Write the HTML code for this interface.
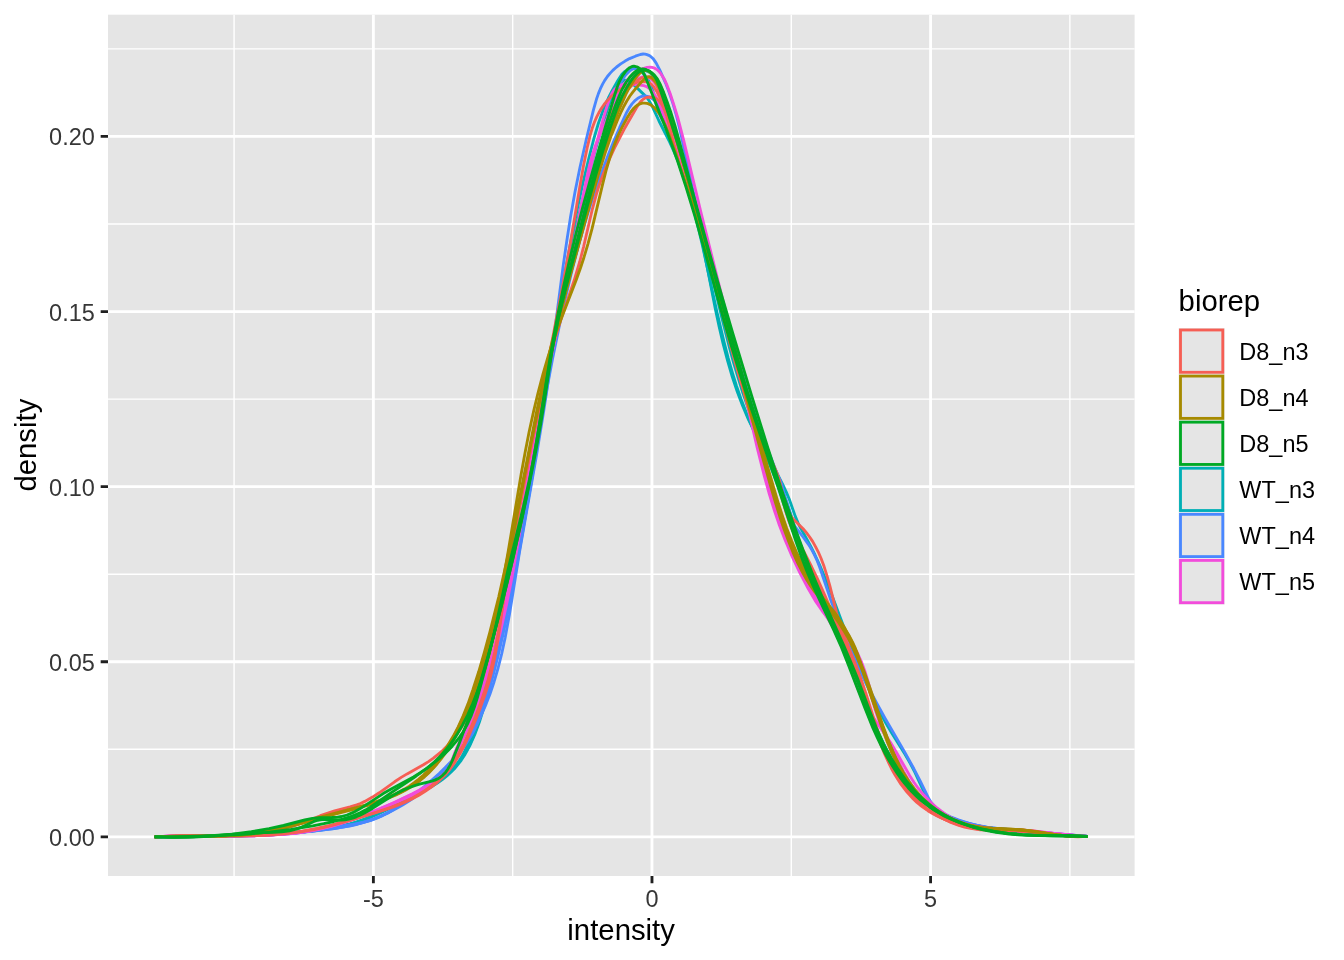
<!DOCTYPE html>
<html><head><meta charset="utf-8"><title>density</title><style>html,body{margin:0;padding:0;background:#fff;overflow:hidden}svg{display:block;will-change:transform}text{font-family:"Liberation Sans",Arial,Helvetica,sans-serif}</style></head><body>
<svg width="1344" height="960" viewBox="0 0 1344 960">
<rect width="1344" height="960" fill="#fff"/>
<rect x="108.00" y="14.67" width="1026.60" height="861.33" fill="#E5E5E5"/>
<path d="M234.08 14.67V876.00M512.68 14.67V876.00M791.28 14.67V876.00M1069.88 14.67V876.00M108.00 749.30H1134.60M108.00 574.20H1134.60M108.00 399.10H1134.60M108.00 224.00H1134.60M108.00 48.90H1134.60" stroke="#fff" stroke-width="1.42" fill="none"/>
<path d="M373.38 14.67V876.00M651.98 14.67V876.00M930.58 14.67V876.00M108.00 836.85H1134.60M108.00 661.75H1134.60M108.00 486.65H1134.60M108.00 311.55H1134.60M108.00 136.45H1134.60" stroke="#fff" stroke-width="2.845" fill="none"/>
<defs><clipPath id="pc"><rect x="108.00" y="14.67" width="1026.60" height="861.33"/></clipPath></defs>
<g clip-path="url(#pc)" fill="none" stroke-width="2.845" stroke-linejoin="round" stroke-linecap="butt">
<path d="M154.6 836.8L236.2 836.0 258.3 835.3 277.3 834.3 298.3 832.7 318.2 830.4 335.1 827.7 342.9 826.1 349.7 824.4 357.3 822.2 363.9 820.0 371.2 817.0 378.5 813.8 389.3 808.6 415.7 795.4 424.7 790.6 431.8 786.6 437.7 782.8 442.6 779.3 447.2 775.6 450.9 772.3 454.4 768.8 458.2 764.2 461.2 760.3 464.5 755.3 467.0 750.9 469.8 745.6 474.8 734.5 479.4 722.1 483.9 707.7 488.5 690.2 495.8 658.9 503.3 625.5 510.5 592.0 516.1 564.4 521.3 537.7 526.4 509.9 531.1 483.2 539.0 435.4 556.7 322.0 561.7 292.3 566.5 264.5 571.9 235.8 577.2 209.2 582.8 183.6 588.4 160.0 593.9 138.5 598.5 123.0 603.2 109.9 605.9 103.4 608.4 98.0 612.0 90.9 617.6 80.9 619.9 77.2 621.7 74.6 624.5 71.7 627.0 70.1 628.7 69.3 630.5 68.7 633.2 68.4 636.0 68.7 637.7 69.3 639.4 70.2 641.8 71.9 644.0 74.1 646.0 76.6 647.7 79.2 649.2 81.9 652.0 88.5 657.5 105.8 660.6 114.2 663.8 121.5 671.7 137.8 675.8 147.0 680.6 159.1 684.8 171.4 688.1 181.9 691.0 192.5 694.0 204.2 697.2 217.9 702.6 243.6 715.4 309.2 719.2 327.0 723.1 343.7 727.7 361.2 732.2 376.6 737.3 391.8 742.6 405.8 748.5 419.6 754.6 432.2 760.7 443.8 775.9 471.2 782.8 484.6 786.2 491.9 789.3 499.3 795.3 516.4 798.0 522.9 800.7 528.3 806.7 538.9 810.5 546.0 815.0 555.0 819.2 564.1 824.3 576.1 830.3 591.0 849.8 642.9 857.1 661.8 864.4 679.5 871.8 696.0 878.9 710.4 886.1 723.6 891.7 733.0 905.0 754.3 910.6 764.0 914.8 772.2 923.0 790.0 926.9 797.1 930.1 802.0 933.8 806.5 938.1 810.6 943.5 814.6 948.6 817.7 955.0 820.7 961.6 823.2 969.5 825.4 979.6 827.5 991.7 829.0 1025.7 831.2 1068.8 835.4 1078.9 836.1 1087.6 836.3" stroke="#00AFB5"/>
<path d="M154.6 836.8L180.4 836.2 241.3 836.0 258.2 835.5 273.1 834.8 294.7 832.9 317.3 830.2 335.9 827.3 343.7 825.7 350.4 824.1 357.0 822.1 363.5 819.8 369.9 817.3 377.1 814.0 417.4 794.1 425.3 789.9 431.4 786.4 436.3 783.1 441.1 779.6 445.7 775.8 450.1 771.7 454.2 767.4 458.0 762.9 461.6 758.1 464.9 753.2 469.3 745.4 473.4 736.5 477.2 726.3 480.7 714.9 486.6 692.6 494.2 661.5 500.9 632.4 507.3 603.3 515.8 561.4 524.5 514.4 532.3 469.3 550.5 360.4 560.7 303.5 566.1 275.1 571.7 247.8 577.2 222.4 582.6 199.2 589.1 173.1 595.8 148.1 603.1 123.3 609.8 102.5 611.6 97.9 613.7 93.4 615.6 89.8 617.8 86.4 619.8 84.0 621.9 81.8 624.3 80.4 626.0 80.2 627.8 80.6 629.5 81.5 631.2 82.7 634.4 85.4 644.5 95.1 647.1 98.0 649.4 101.2 652.3 106.4 659.0 121.0 669.7 142.2 673.8 151.2 678.0 161.2 682.1 172.4 686.3 184.6 690.4 197.9 694.4 212.4 698.3 227.9 702.2 244.4 717.1 312.8 724.0 341.8 728.2 358.2 732.3 372.5 736.4 385.7 740.9 398.8 746.6 413.6 752.8 428.2 758.3 440.0 774.3 472.2 778.5 481.3 782.3 490.4 786.1 500.7 789.9 512.0 801.7 550.9 804.3 558.4 807.3 565.8 812.6 577.7 825.7 604.8 833.7 623.0 842.6 645.0 862.3 695.6 867.9 709.4 873.0 721.3 878.9 734.1 884.6 745.9 890.3 756.7 896.0 766.3 902.6 776.5 909.7 786.1 916.9 794.2 923.9 801.0 931.4 807.0 938.7 811.7 947.3 816.2 956.4 819.9 965.9 822.9 975.6 825.4 986.6 827.5 999.8 829.4 1011.9 830.8 1027.8 832.1 1087.6 836.3" stroke="#00AFB5"/>
<path d="M154.6 836.8L174.5 836.4 235.0 835.9 253.1 835.3 270.1 834.4 291.8 832.6 315.4 829.9 335.3 827.0 342.2 825.7 349.0 824.1 354.7 822.5 360.3 820.7 366.6 818.3 372.9 815.5 419.0 792.5 430.1 786.6 435.3 783.5 439.6 780.7 443.6 777.7 447.4 774.5 451.0 771.2 453.6 768.3 456.6 764.5 459.4 760.5 461.9 756.4 464.3 752.0 468.8 742.0 474.1 727.9 480.3 709.8 486.0 691.5 491.5 672.2 496.8 651.8 501.9 630.3 508.4 599.9 514.9 566.4 520.3 535.7 532.7 462.4 539.9 420.8 547.6 378.4 555.0 339.9 563.2 299.6 571.6 261.4 580.3 224.2 588.2 193.1 595.6 167.0 599.4 154.6 603.3 143.2 607.3 131.8 611.3 121.5 615.5 111.3 619.6 102.1 623.0 94.9 626.3 88.7 629.4 83.5 632.9 78.7 635.6 75.6 638.7 72.9 641.4 71.3 643.3 70.7 644.2 70.6 645.1 70.7 646.9 71.1 648.7 71.9 650.4 73.1 653.4 76.1 655.9 79.5 658.4 83.8 660.9 89.1 665.5 100.3 668.1 107.9 669.5 112.8 670.3 116.7 671.1 121.6 672.6 135.5 673.4 140.4 674.8 146.2 677.6 155.8 684.3 174.8 688.3 187.2 696.1 213.3 700.6 229.8 705.0 247.3 721.6 316.7 729.3 346.9 733.8 363.3 738.4 378.7 742.9 393.0 747.5 406.3 755.2 427.0 776.3 481.3 781.5 495.5 797.7 541.8 804.3 559.6 810.9 576.3 816.6 590.2 822.2 603.2 842.7 648.2 851.1 667.5 857.7 684.2 870.6 718.6 876.6 733.4 883.4 748.0 890.2 760.7 896.7 771.1 903.9 781.1 907.7 785.9 911.7 790.4 919.5 798.2 927.1 804.6 931.1 807.4 935.2 810.1 943.7 814.8 948.2 816.9 953.7 819.1 963.1 822.3 973.8 825.1 984.7 827.3 997.8 829.3 1010.0 830.7 1024.1 831.9 1087.6 836.3" stroke="#00AFB5"/>
<path d="M154.6 836.8L203.7 836.5 233.4 836.0 261.0 835.0 286.5 833.5 311.7 831.3 333.7 828.5 342.6 827.1 350.5 825.5 358.3 823.6 366.1 821.4 373.8 818.9 380.5 816.2 388.0 812.9 395.4 809.1 402.6 805.0 409.7 800.5 416.5 795.8 423.0 790.8 429.3 785.5 435.4 780.0 441.2 774.2 447.4 767.5 452.6 761.3 458.2 754.0 462.9 747.4 467.8 739.8 474.0 729.3 480.0 717.6 485.1 706.5 489.9 694.2 494.1 681.7 498.1 668.0 501.6 654.1 505.1 638.0 509.4 614.7 519.6 551.5 536.7 453.9 543.6 411.7 546.8 390.5 550.0 367.2 563.2 265.6 566.9 240.3 570.5 217.1 575.0 192.1 580.0 167.2 586.1 140.3 593.4 110.2 596.8 98.2 598.5 93.4 600.4 88.7 602.6 84.1 604.6 80.6 607.4 76.5 610.0 73.4 612.8 70.4 616.6 67.0 620.7 63.9 625.1 61.1 629.6 58.6 635.4 56.2 640.3 54.5 643.2 54.0 645.2 54.1 647.0 54.6 648.8 55.3 650.4 56.3 653.3 58.9 656.2 63.1 659.7 69.8 665.6 83.1 669.2 92.5 672.8 103.1 676.5 115.8 680.2 130.7 692.2 186.9 700.7 223.9 710.0 260.5 720.4 298.9 728.8 328.3 738.4 360.7 751.7 404.8 758.5 426.3 763.5 440.8 768.2 453.2 773.0 464.5 779.4 478.5 781.9 485.1 783.6 492.2 786.2 508.6 787.1 512.5 788.1 515.3 789.8 518.9 792.4 523.1 803.1 537.0 808.6 544.6 811.9 549.9 814.7 555.3 817.3 560.9 819.8 567.5 830.2 598.4 838.7 621.4 848.0 644.1 857.6 665.6 867.0 684.9 876.6 702.9 885.0 718.1 905.0 752.6 913.9 768.8 920.0 780.6 929.0 799.1 931.7 803.3 934.9 807.0 938.7 810.3 943.8 813.5 950.4 816.7 958.3 819.8 969.2 823.4 978.1 825.7 986.1 827.3 996.2 828.5 1025.8 830.7 1068.6 835.0 1087.6 836.3" stroke="#4987FF"/>
<path d="M154.6 836.8L193.9 836.7 226.2 836.2 255.4 835.2 282.6 833.6 309.9 831.3 334.2 828.6 342.9 827.2 350.6 825.8 358.2 824.0 364.7 822.2 372.0 819.8 378.2 817.3 384.4 814.4 391.2 810.7 397.9 806.8 404.5 802.5 411.7 797.4 419.6 791.4 427.3 785.2 434.1 779.4 440.6 773.4 446.9 767.2 452.9 760.7 457.9 754.8 462.7 748.6 467.1 742.2 472.2 734.0 476.6 725.4 480.9 715.5 484.6 705.3 488.4 693.0 492.8 676.7 497.9 656.6 502.6 636.5 509.7 603.0 516.9 564.7 523.3 528.3 541.0 422.0 546.9 389.1 552.5 359.1 559.0 327.4 565.5 297.7 572.1 270.2 579.0 243.8 583.5 228.0 588.2 212.2 593.0 197.4 598.0 182.6 603.3 167.9 608.5 154.2 614.1 140.4 619.6 127.7 626.8 112.2 629.2 107.9 632.0 103.9 635.3 100.3 638.4 97.9 640.1 97.0 641.8 96.4 644.5 96.0 646.4 96.1 648.2 96.6 650.0 97.3 652.5 98.8 654.1 100.0 656.2 102.1 658.1 104.4 659.6 106.9 662.6 113.2 668.2 127.1 674.2 142.8 680.2 159.5 686.1 177.1 692.0 195.7 697.9 215.2 703.7 235.8 709.2 256.4 714.7 278.1 732.4 350.8 737.0 368.0 741.5 383.1 746.2 397.0 751.0 409.8 756.5 423.4 770.1 455.6 777.1 473.8 783.8 493.3 798.3 538.3 802.1 549.4 805.8 559.5 809.4 568.5 813.3 577.4 817.4 586.1 821.5 593.7 828.4 605.3 841.2 624.7 846.3 632.9 851.1 641.3 855.0 649.2 858.9 658.2 863.1 669.3 867.0 680.6 877.4 712.4 881.0 722.3 884.8 732.2 890.0 744.5 895.7 757.0 901.6 768.7 907.1 778.4 912.6 786.9 918.0 794.0 923.2 799.7 928.9 804.9 935.9 809.9 943.3 814.1 951.1 817.7 960.2 821.0 968.7 823.4 977.4 825.3 987.3 827.1 997.3 828.4 1018.1 830.5 1087.6 836.3" stroke="#4987FF"/>
<path d="M154.6 836.8L174.8 837.0 196.9 836.6 256.0 834.7 282.3 834.0 292.3 833.5 302.2 832.4 324.2 828.5 353.1 824.4 363.0 822.5 370.6 820.4 376.2 818.4 382.5 815.6 388.7 812.4 394.7 808.8 401.4 804.4 407.9 799.6 424.6 786.3 432.4 779.6 439.2 773.5 445.0 767.8 450.6 762.0 455.9 756.1 460.3 750.7 465.0 744.3 468.8 738.5 473.7 729.9 477.9 720.9 481.5 711.5 485.3 700.0 489.3 685.2 495.2 661.5 500.7 637.9 506.2 613.3 514.9 570.1 523.6 522.9 531.2 478.5 548.4 374.3 557.7 321.7 562.9 295.0 568.1 269.4 573.6 244.9 579.0 222.4 586.8 192.4 595.8 160.6 607.5 122.1 615.7 96.1 617.9 89.3 619.8 84.7 621.6 81.1 623.7 77.6 626.1 74.4 629.0 71.4 631.4 69.6 634.0 68.5 635.7 68.3 638.4 68.8 640.7 70.2 642.1 71.5 643.4 73.1 645.6 76.8 648.8 83.7 652.2 92.0 654.1 97.5 657.9 110.0 660.1 115.7 661.5 118.4 663.6 121.8 671.2 132.3 673.9 136.4 676.6 141.6 679.2 148.1 682.1 157.9 687.6 180.7 692.7 200.2 714.8 278.3 725.2 316.1 733.3 347.3 743.5 389.4 748.6 407.8 752.9 421.1 757.2 432.4 762.0 443.4 773.8 469.0 776.9 476.4 779.8 483.9 783.8 496.3 792.0 525.3 796.8 539.6 800.5 549.0 805.2 560.2 822.2 597.9 830.2 616.3 838.4 636.7 858.1 686.8 868.9 712.7 875.5 727.5 881.6 740.3 888.1 753.1 894.2 763.8 900.6 774.1 907.7 783.9 914.7 792.3 921.6 799.3 929.1 805.5 936.3 810.5 940.5 812.9 944.9 815.2 954.0 819.1 963.6 822.3 973.5 824.9 984.6 827.1 998.0 829.1 1009.3 830.4 1023.4 831.6 1087.6 836.3" stroke="#4987FF"/>
<path d="M154.6 836.8L167.4 836.1 182.4 835.7 242.3 835.9 256.6 835.7 268.7 835.2 282.8 834.3 295.8 833.0 308.7 831.1 320.5 828.8 329.2 826.7 337.8 824.3 346.4 821.6 355.9 818.3 374.7 811.1 396.1 801.7 422.9 789.1 428.4 786.3 432.7 783.8 437.6 780.5 441.3 777.5 444.7 774.0 447.0 771.0 448.5 768.5 450.2 764.9 455.0 752.4 457.1 747.7 459.4 743.2 465.9 732.1 468.7 726.8 472.0 719.5 475.3 711.1 481.7 691.8 488.6 668.6 495.0 645.2 501.0 620.7 508.8 585.4 516.7 545.8 523.5 508.2 539.6 414.9 549.5 362.4 557.6 321.9 576.8 228.0 587.0 176.6 589.4 165.8 591.7 157.1 595.1 146.6 600.0 134.4 608.7 115.0 615.9 98.4 618.9 92.1 622.0 86.9 624.9 82.8 628.2 78.9 631.9 75.3 635.1 72.8 639.4 70.1 643.2 68.5 647.1 67.4 650.1 67.1 652.0 67.3 653.7 67.8 655.4 68.6 657.7 70.2 659.1 71.6 661.0 73.9 664.2 78.9 667.1 85.4 670.3 94.0 674.1 105.6 677.9 118.2 683.5 139.7 701.3 213.9 736.0 352.7 743.7 385.1 756.3 439.3 761.7 461.9 765.8 477.5 769.8 492.1 773.8 505.6 777.8 517.9 782.9 532.1 788.4 546.0 794.0 558.9 799.6 570.6 804.8 580.4 809.8 589.1 826.2 615.9 832.0 625.5 836.4 633.5 840.4 641.6 843.3 648.1 846.3 655.6 854.8 680.5 857.9 689.0 861.5 697.3 865.6 705.3 868.7 710.5 872.5 716.4 886.3 736.3 891.4 743.9 896.1 751.7 909.6 775.4 913.9 782.2 918.0 788.0 921.8 792.7 925.1 796.5 929.2 800.8 932.9 804.3 937.4 808.2 941.3 811.2 946.1 814.7 950.3 817.3 958.2 821.4 965.5 824.4 974.0 826.9 981.9 828.4 988.0 829.1 994.1 829.5 1016.9 829.9 1026.1 830.3 1038.1 831.5 1068.6 835.2 1078.7 836.0 1087.6 836.3" stroke="#F24CDB"/>
<path d="M154.6 836.8L167.3 836.1 181.2 835.8 242.3 835.9 256.3 835.7 269.3 835.2 283.2 834.2 297.0 832.7 309.7 830.7 322.3 828.1 330.9 825.9 340.4 823.1 349.9 820.1 359.2 816.8 369.5 812.9 380.6 808.3 392.6 803.2 403.5 798.1 412.5 793.7 420.4 789.5 427.3 785.5 433.9 781.3 439.5 777.4 443.2 774.4 446.6 771.0 448.8 767.9 450.2 765.4 451.9 761.8 456.4 749.3 458.7 743.7 467.0 725.5 471.7 714.5 476.2 703.4 480.7 691.4 486.1 675.4 491.3 658.4 496.0 641.2 500.6 622.9 506.0 598.7 511.2 572.3 515.8 546.7 530.4 463.0 537.3 426.7 545.2 386.6 586.2 188.2 592.2 161.1 598.0 137.8 602.2 122.3 606.9 106.7 609.8 98.0 612.3 92.7 613.9 90.3 615.1 88.9 617.2 87.1 618.9 86.1 620.7 85.2 623.6 84.4 625.7 84.0 628.8 83.8 631.8 84.0 643.8 85.7 646.6 86.6 649.0 88.2 650.5 89.4 652.5 91.6 655.8 96.5 658.9 102.6 661.8 110.1 669.3 133.0 683.8 175.3 692.2 200.7 702.0 231.9 711.6 264.3 722.8 304.7 733.5 346.2 742.8 385.0 757.3 448.2 764.6 477.2 769.4 494.4 774.4 510.5 779.5 525.5 785.2 540.3 792.2 556.7 799.9 572.9 808.3 588.8 815.9 601.7 822.1 610.8 828.3 618.5 833.0 623.6 844.2 634.7 849.4 640.5 853.9 646.7 857.7 653.5 861.3 661.5 864.8 670.9 867.7 680.5 875.4 708.0 878.2 716.5 881.7 725.7 887.2 738.3 894.4 753.4 903.5 771.4 909.9 782.8 914.9 790.3 920.4 797.3 925.9 803.0 932.0 808.1 938.5 812.6 946.3 816.9 954.6 820.6 963.2 823.6 969.0 825.2 974.9 826.5 980.9 827.6 987.8 828.4 997.7 829.2 1017.5 830.1 1026.5 830.7 1069.1 835.0 1079.0 835.8 1087.6 836.3" stroke="#F24CDB"/>
<path d="M154.6 836.8L167.3 836.1 182.2 835.7 243.5 835.9 257.6 835.7 270.6 835.2 284.6 834.2 298.4 832.8 311.2 830.8 322.8 828.4 331.4 826.3 340.9 823.5 350.4 820.5 360.7 816.9 372.0 812.6 384.1 807.7 398.0 801.7 408.1 797.1 416.2 793.1 423.2 789.3 430.0 785.3 435.7 781.5 441.2 777.5 444.9 774.4 448.2 771.0 450.5 767.9 451.9 765.3 453.6 761.8 460.3 744.7 472.3 718.3 476.8 707.3 481.0 696.2 486.3 681.2 491.1 666.0 495.7 649.8 500.0 633.4 506.2 606.2 512.1 576.7 517.3 547.1 529.2 474.9 536.7 431.6 545.7 383.6 555.1 337.8 565.3 292.1 576.0 248.4 585.2 213.5 606.0 138.4 610.2 124.3 614.5 112.1 618.9 102.0 621.2 97.5 623.8 93.0 626.0 89.6 628.5 86.4 631.2 83.5 633.5 81.5 636.8 79.2 639.5 77.8 642.2 77.0 644.0 76.7 645.8 76.9 647.6 77.4 649.4 78.2 651.8 79.9 653.2 81.3 655.2 83.7 656.8 86.2 658.2 88.8 660.4 94.4 664.5 106.9 679.4 153.7 688.8 185.1 698.6 218.5 708.6 254.0 718.6 290.5 736.5 358.2 761.5 457.1 768.3 483.1 772.5 497.5 776.6 510.8 780.6 523.0 784.7 534.2 790.9 549.9 797.4 564.4 804.6 578.7 812.1 591.9 819.1 602.9 826.7 613.6 832.9 621.3 843.8 633.9 847.9 639.3 852.2 645.8 855.9 652.7 859.6 660.8 863.5 671.2 866.6 681.0 875.0 709.2 877.8 717.6 881.3 726.6 886.2 738.2 892.4 751.5 900.6 768.0 906.6 779.0 911.5 786.9 916.9 794.4 922.2 800.4 927.9 805.7 934.1 810.3 941.5 814.8 949.4 818.5 958.7 821.8 966.3 824.0 975.2 825.9 984.2 827.5 994.4 828.8 1009.6 830.3 1059.9 834.0 1087.6 836.3" stroke="#F24CDB"/>
<path d="M154.6 836.8L171.2 836.2 213.1 835.9 231.1 835.5 241.1 834.9 250.0 834.2 258.9 833.2 266.7 832.1 280.3 829.5 292.7 826.2 302.0 823.1 320.4 815.7 327.9 813.0 334.6 810.9 350.1 806.9 356.7 804.9 360.4 803.5 364.8 801.4 372.5 797.1 379.2 792.8 394.6 781.8 401.2 777.4 407.1 773.9 423.4 764.8 428.5 761.6 433.4 758.1 441.1 751.9 448.1 745.0 454.4 737.6 460.6 728.8 466.0 719.5 470.9 709.8 475.5 698.8 480.3 685.5 485.1 670.1 490.5 650.5 495.6 630.1 500.5 608.6 505.0 587.2 509.7 562.9 523.7 486.0 530.5 450.0 553.6 333.2 562.2 288.3 570.2 244.3 579.7 187.4 583.5 165.8 587.5 146.3 590.6 133.7 592.3 128.1 594.3 122.5 596.6 117.1 598.8 112.8 601.3 108.6 604.1 104.5 607.2 100.7 610.7 97.0 614.4 93.7 618.4 90.6 622.7 87.9 626.2 86.0 630.8 84.1 634.6 82.9 639.5 81.9 643.4 81.6 646.2 81.8 648.0 82.2 649.6 83.0 651.2 84.0 653.8 86.9 657.1 92.1 662.4 102.9 667.9 115.8 673.2 129.7 678.0 143.8 682.1 157.1 686.2 171.4 703.2 236.6 727.8 325.6 734.2 350.6 742.2 384.6 745.6 398.1 748.9 409.5 752.4 419.7 755.3 427.1 758.1 433.4 771.2 460.0 774.1 466.3 776.8 472.8 778.8 478.4 780.4 484.2 783.5 499.1 784.7 504.0 785.9 507.7 787.5 511.2 788.9 513.7 791.2 516.8 793.9 519.7 803.1 528.8 806.4 532.6 809.3 536.5 812.6 541.4 815.5 546.6 818.2 551.8 821.0 558.2 824.1 566.6 827.1 576.1 829.8 585.7 836.6 612.8 839.1 621.3 841.6 628.8 845.7 639.8 856.6 667.2 861.1 679.2 865.9 693.5 876.5 727.2 882.1 743.3 885.4 751.6 889.0 759.7 892.4 766.8 896.2 773.6 902.0 782.6 905.4 787.3 908.5 791.1 915.2 798.3 919.5 802.4 923.3 805.7 928.0 809.3 932.1 812.2 940.7 817.4 949.6 821.8 958.9 825.4 964.6 827.1 969.5 828.2 975.3 829.2 980.2 829.8 990.0 830.2 1011.8 829.6 1021.7 829.8 1033.6 831.0 1057.2 834.9 1067.1 836.2 1073.0 836.7 1078.0 836.8 1082.9 836.7 1087.6 836.3" stroke="#F65E54"/>
<path d="M154.6 836.8L167.3 836.3 182.0 836.0 242.9 835.9 256.6 835.6 269.3 835.0 285.9 833.7 300.4 831.8 313.9 829.5 329.1 826.1 351.9 819.9 384.6 810.0 392.0 807.5 399.3 804.7 405.7 802.0 411.9 799.0 418.9 795.2 424.8 791.6 431.3 787.1 436.7 782.9 441.7 778.3 446.4 773.4 450.7 768.2 454.6 762.6 459.7 754.3 464.3 745.5 469.3 734.8 475.5 720.2 480.5 707.4 484.7 695.5 488.3 684.4 491.3 673.1 494.7 657.9 497.8 640.6 500.4 623.1 506.2 579.1 510.5 552.9 514.5 531.7 524.6 480.8 536.7 416.2 542.8 386.5 548.9 360.8 552.2 348.5 555.4 337.2 561.0 319.4 574.2 280.3 579.8 261.5 583.7 246.3 591.9 211.0 596.2 194.9 598.5 187.4 601.4 179.0 604.5 170.7 607.9 162.5 615.2 146.5 624.1 129.3 636.3 108.0 638.5 104.5 640.3 102.0 642.3 99.9 644.6 98.3 647.1 97.3 649.9 97.0 652.7 97.3 655.5 98.2 657.1 99.2 659.3 101.0 661.1 103.3 663.1 106.9 664.7 110.7 666.4 115.4 668.9 123.9 674.1 145.5 678.3 160.5 683.5 177.3 696.9 219.5 704.4 245.0 711.8 272.5 729.8 342.9 735.5 363.7 740.7 381.5 747.3 401.9 753.9 420.3 759.2 433.9 772.0 464.6 777.6 479.3 781.7 491.4 789.4 517.8 792.9 527.9 795.7 535.2 799.0 542.2 811.5 566.5 817.5 578.9 824.4 594.3 834.8 618.6 847.0 648.2 857.9 676.2 867.1 701.0 879.2 735.7 883.8 747.8 887.2 756.0 890.5 763.1 893.9 770.1 897.7 776.8 903.4 785.6 909.2 793.1 915.7 800.1 919.2 803.3 922.9 806.4 926.8 809.3 930.9 812.1 939.6 817.0 948.8 821.2 958.3 824.6 964.2 826.3 971.1 827.8 976.9 828.8 983.8 829.6 993.4 830.1 1012.6 830.4 1021.3 830.7 1032.0 831.7 1056.6 834.9 1066.5 836.0 1077.2 836.5 1087.6 836.3" stroke="#F65E54"/>
<path d="M154.6 836.8L180.5 836.1 241.6 835.8 256.6 835.3 270.5 834.6 287.4 833.1 302.2 831.1 316.9 828.4 332.4 824.8 356.5 818.2 373.7 813.1 384.1 809.7 391.6 807.1 399.1 804.1 406.5 800.8 412.8 797.7 419.8 793.7 425.8 790.0 431.4 785.9 436.8 781.4 441.8 776.7 445.9 772.3 450.2 766.9 454.1 761.2 458.7 753.4 463.8 743.6 469.2 731.6 475.4 716.8 480.3 703.7 484.5 691.5 488.0 680.2 491.2 667.7 494.7 652.1 498.0 634.4 500.7 617.6 507.9 568.8 511.1 550.1 514.8 529.4 520.7 499.1 531.2 446.2 545.4 377.7 555.8 330.8 566.3 287.0 571.9 264.7 577.8 242.5 592.3 190.7 596.9 173.3 600.7 157.7 605.7 134.1 608.1 124.4 610.8 115.9 613.9 108.6 617.8 101.6 621.9 95.9 624.5 92.8 627.9 89.3 633.6 83.7 636.8 81.0 639.4 79.2 641.2 78.2 644.1 77.3 646.0 77.0 648.9 77.3 650.6 77.9 652.1 78.9 653.5 80.1 654.6 81.5 656.6 84.9 661.0 95.3 666.1 108.6 670.7 121.8 675.3 136.1 685.6 171.3 705.1 241.4 726.3 320.9 749.1 409.0 751.8 418.5 754.6 427.0 758.7 437.2 769.6 460.9 774.2 472.0 777.9 483.4 786.0 512.3 788.5 519.9 791.4 527.4 798.2 542.9 814.6 576.8 822.2 593.1 830.0 610.6 837.5 628.2 847.3 652.1 856.4 676.1 864.5 698.4 876.5 732.8 881.1 745.2 884.5 753.6 887.8 761.0 891.3 768.2 895.1 775.1 900.9 784.2 906.8 791.9 913.3 799.0 916.9 802.4 920.6 805.5 927.9 810.7 932.1 813.3 936.6 815.7 945.9 820.0 955.6 823.5 962.6 825.5 969.6 827.1 976.6 828.4 984.6 829.4 994.5 830.1 1015.1 830.9 1024.0 831.5 1057.0 834.9 1068.0 835.9 1078.0 836.4 1087.6 836.3" stroke="#F65E54"/>
<path d="M154.6 836.8L171.2 836.3 208.3 836.2 224.4 835.9 241.4 834.9 249.3 834.1 257.1 833.0 269.7 830.7 283.1 827.6 320.3 817.1 354.6 808.2 369.1 804.1 382.3 799.6 388.7 797.0 394.1 794.6 399.3 792.0 404.4 789.1 409.4 786.1 414.2 782.7 418.8 779.1 423.2 775.2 427.5 771.1 431.6 766.8 435.5 762.3 439.9 756.8 443.5 751.9 447.4 746.1 453.1 736.6 458.2 726.8 463.2 715.9 468.0 703.9 472.9 689.8 478.7 671.8 484.5 651.8 490.0 631.7 498.7 597.0 507.4 558.3 515.6 518.3 536.4 412.9 543.2 380.7 549.6 352.6 555.3 329.4 561.7 305.3 581.5 234.5 595.4 182.8 601.3 161.8 607.5 141.7 613.4 124.6 619.4 108.8 625.8 94.4 628.5 89.2 631.0 84.8 634.3 79.7 636.9 76.4 639.1 74.0 641.5 72.0 644.1 70.6 645.8 70.4 648.3 71.1 650.7 72.7 653.6 75.5 656.6 79.4 658.7 82.7 660.9 87.1 663.2 92.6 665.0 98.3 677.4 141.7 693.5 199.3 747.1 395.5 769.2 475.3 774.5 493.6 778.8 507.9 783.1 521.2 787.1 532.4 792.5 546.3 798.0 558.9 803.7 570.4 809.9 581.6 815.7 590.7 821.4 598.9 826.3 605.2 838.2 620.0 844.2 628.1 848.6 634.7 852.4 641.8 855.3 648.2 857.8 654.8 870.0 692.9 875.6 708.5 881.5 724.0 888.5 741.6 894.1 754.7 899.3 765.8 904.6 775.7 909.9 784.2 915.7 792.2 921.4 798.9 927.7 804.9 934.6 810.3 942.1 814.9 950.1 818.7 958.5 821.9 964.2 823.6 971.0 825.3 976.9 826.4 983.9 827.4 992.8 828.1 1012.7 829.2 1022.7 830.0 1032.5 831.2 1056.1 834.7 1067.0 836.0 1077.9 836.5 1087.6 836.3" stroke="#A68A00"/>
<path d="M154.6 836.8L171.9 836.2 209.7 836.2 225.2 835.9 241.6 834.9 256.9 833.0 274.0 830.0 291.9 825.9 305.9 822.1 338.4 812.6 366.4 805.1 380.2 800.8 392.0 796.2 397.3 793.8 402.5 791.2 407.5 788.3 412.5 785.2 417.2 781.9 421.8 778.4 426.2 774.6 429.7 771.3 433.0 767.8 436.7 763.4 440.2 758.9 443.6 754.1 449.7 744.2 455.7 733.1 462.4 719.1 468.9 704.1 474.5 689.7 479.8 674.3 485.0 657.7 489.6 641.1 493.2 627.1 496.4 613.0 499.6 597.8 503.0 580.7 508.4 550.2 521.1 474.4 525.1 452.5 529.0 432.5 533.5 411.8 538.0 393.0 542.9 374.4 548.0 356.9 552.4 343.2 556.8 330.5 561.5 317.9 576.1 280.2 580.4 268.3 584.0 257.2 587.9 244.1 592.0 228.9 602.9 183.1 606.1 170.4 610.0 157.0 614.1 145.4 617.7 136.4 622.0 127.4 626.9 118.3 630.8 112.0 634.0 108.0 636.1 106.1 637.6 105.0 639.2 104.2 640.8 103.6 642.5 103.2 644.2 103.1 646.9 103.4 648.6 103.9 651.0 105.1 653.3 106.8 655.4 108.8 658.0 112.0 660.3 115.3 662.7 119.6 665.6 125.8 668.4 133.0 676.1 154.9 683.8 177.8 691.8 202.7 699.8 228.5 707.8 255.3 716.0 284.1 730.8 338.1 758.0 440.8 770.2 484.6 775.4 502.3 779.7 516.2 784.0 529.0 788.4 540.7 793.0 552.3 797.7 562.8 802.0 571.4 806.7 579.7 810.8 586.2 814.8 591.8 830.8 611.7 837.2 620.3 840.9 625.9 844.4 631.6 847.7 637.4 851.2 644.2 857.1 657.2 863.0 672.2 868.2 686.7 880.5 723.5 887.7 742.9 891.5 752.1 895.6 761.0 899.7 768.9 903.5 775.6 909.3 784.5 915.1 792.1 921.4 799.1 928.4 805.4 935.2 810.5 943.3 815.4 951.1 819.2 960.2 822.7 965.7 824.4 971.4 825.8 977.1 826.9 983.9 827.8 992.6 828.5 1013.0 829.3 1022.6 830.0 1033.2 831.3 1057.0 834.8 1068.5 836.1 1078.2 836.6 1087.6 836.3" stroke="#A68A00"/>
<path d="M154.6 836.8L171.0 836.3 208.9 836.2 226.0 835.8 244.0 834.8 251.9 834.0 259.7 833.0 272.1 830.8 286.3 827.5 324.1 817.0 355.5 808.8 369.2 804.9 383.5 800.2 395.4 795.3 400.6 792.8 405.8 790.1 410.7 787.1 415.5 783.9 420.1 780.5 424.5 776.8 428.7 772.9 433.4 768.0 437.2 763.7 441.5 758.3 444.9 753.6 448.8 747.9 454.5 738.5 460.2 727.9 465.8 716.1 470.9 704.0 476.3 689.9 481.1 675.7 485.8 660.5 490.3 644.4 495.6 622.4 501.3 596.4 507.8 563.6 523.6 481.1 531.0 443.2 539.1 404.4 547.2 367.7 558.1 322.6 570.4 274.7 584.1 224.2 598.6 173.9 605.1 153.1 611.3 135.4 618.0 118.8 621.3 111.5 623.9 106.2 626.8 101.0 629.9 96.0 632.8 92.1 636.5 87.6 641.9 81.5 644.2 79.3 646.9 77.4 648.8 76.7 649.7 76.7 651.3 77.3 653.4 79.2 656.0 82.2 658.6 86.3 660.4 89.7 662.4 94.2 665.9 104.5 681.1 156.1 697.7 214.2 713.0 269.4 749.6 402.5 768.9 471.3 778.5 503.8 782.8 517.0 786.7 528.2 791.7 541.1 797.1 553.7 802.6 565.2 808.2 575.5 813.8 584.7 819.8 593.7 824.6 600.0 834.5 612.4 839.1 618.9 844.9 628.3 850.8 639.9 857.7 655.2 864.1 671.5 870.0 688.0 882.8 725.5 889.1 742.6 892.6 751.0 895.9 758.3 899.5 765.4 903.3 772.4 909.0 781.6 914.8 789.4 921.2 796.7 928.2 803.4 935.9 809.4 944.2 814.7 952.9 819.2 962.1 822.9 968.7 825.0 974.4 826.4 980.3 827.5 986.2 828.3 994.1 828.9 1015.1 829.8 1024.0 830.5 1033.9 831.6 1057.3 834.9 1068.0 836.0 1077.9 836.5 1087.6 836.3" stroke="#A68A00"/>
<path d="M154.6 836.8L174.6 837.3 193.6 837.0 213.6 836.0 232.5 834.2 251.4 831.7 269.0 828.6 283.6 825.5 304.8 820.0 312.5 818.4 319.5 817.7 331.7 817.5 336.7 817.3 341.5 816.5 347.1 815.0 353.3 812.4 359.4 809.1 365.3 805.4 383.2 793.6 391.2 789.0 413.5 776.9 420.3 772.7 426.0 768.8 429.9 765.8 434.3 762.0 438.6 757.9 442.6 753.6 446.5 749.2 450.1 744.5 453.6 739.6 457.4 733.8 462.4 725.2 467.5 715.3 472.4 704.3 476.9 693.1 481.2 680.8 485.1 668.4 488.8 655.0 492.5 640.5 496.5 622.9 507.7 571.1 523.3 506.9 529.4 479.6 533.1 461.0 536.8 440.4 550.9 352.7 554.4 333.0 557.9 314.3 563.1 288.7 568.8 263.3 575.4 236.0 582.6 207.9 589.6 182.0 597.7 153.3 614.5 95.5 617.3 86.8 619.1 82.2 620.9 78.6 622.9 75.1 625.3 71.9 627.3 69.6 629.6 67.7 632.1 66.4 633.9 66.2 636.7 66.8 638.4 67.6 640.0 68.7 641.3 70.0 642.5 71.5 644.9 75.8 666.4 130.1 671.9 144.9 677.5 160.8 686.1 187.2 694.8 215.9 703.3 245.7 725.0 324.2 731.8 347.3 738.2 368.4 751.2 408.3 778.2 487.6 795.4 539.8 801.7 557.7 807.1 571.7 812.6 584.6 818.4 597.5 833.8 630.1 841.4 647.3 848.7 665.6 865.0 708.3 873.0 728.1 877.2 737.4 881.6 746.6 885.8 754.8 889.8 761.8 896.8 772.8 900.8 778.5 904.4 783.2 908.2 787.7 912.2 792.0 916.4 796.2 920.7 800.1 924.5 803.2 929.2 806.7 934.1 810.0 939.2 813.0 944.4 815.9 949.8 818.5 960.9 823.2 972.4 827.0 984.2 830.1 996.2 832.4 1009.3 834.1 1018.3 834.9 1027.3 835.3 1037.1 835.4 1068.7 835.3 1078.8 835.6 1087.6 836.3" stroke="#00A924"/>
<path d="M154.6 836.8L162.7 837.2 170.8 837.4 187.8 837.1 203.7 836.2 244.5 833.3 256.5 832.8 273.7 832.4 281.7 831.9 289.5 830.8 296.2 829.2 301.7 827.1 313.4 821.7 316.2 820.7 319.0 820.0 321.9 819.6 324.9 819.4 337.0 820.2 341.0 820.2 345.0 819.8 348.8 819.1 352.6 818.1 356.3 816.8 360.0 815.2 364.5 813.0 372.5 808.4 391.4 796.3 397.4 792.9 403.6 789.9 409.0 787.7 414.6 785.7 419.5 784.2 431.9 781.1 434.8 780.1 437.5 778.9 440.0 777.5 442.9 775.1 445.5 772.4 447.7 769.3 450.1 765.1 452.3 760.6 459.1 743.7 467.2 721.9 474.7 700.1 481.4 679.0 488.1 656.0 494.7 631.9 501.7 604.8 510.6 567.8 519.2 530.8 526.3 498.5 532.5 468.1 536.7 446.4 540.6 424.7 544.3 402.0 552.0 351.4 554.8 335.6 557.8 321.0 561.4 305.4 565.8 288.0 587.5 205.4 595.4 176.3 602.7 151.3 609.7 129.4 616.2 110.6 618.7 104.1 621.5 97.7 624.6 91.4 627.6 86.1 630.9 80.9 634.0 76.7 636.8 73.7 639.1 71.8 641.6 70.5 644.3 69.9 646.1 70.0 647.9 70.5 649.6 71.3 651.3 72.4 654.4 75.1 657.5 79.2 659.9 83.6 663.1 91.0 667.0 101.4 670.6 111.8 674.8 125.1 678.9 139.6 694.7 199.6 707.8 247.0 719.9 289.4 732.9 333.6 751.4 395.0 767.8 447.6 780.8 487.6 793.0 522.6 803.0 549.8 813.3 575.9 823.8 600.9 844.3 646.8 852.5 666.0 858.1 679.9 870.2 712.3 876.0 727.1 879.6 735.3 883.4 743.6 887.1 750.8 891.1 758.0 898.1 769.4 905.9 780.3 913.7 789.7 917.8 794.1 922.1 798.3 930.3 805.5 935.1 809.0 939.1 811.7 943.3 814.3 948.4 817.1 953.7 819.6 959.1 821.9 964.6 824.0 970.2 825.8 981.6 828.9 994.4 831.5 1008.5 833.4 1022.7 834.7 1038.1 835.5 1053.4 835.9 1087.6 836.3" stroke="#00A924"/>
<path d="M154.6 836.8L189.8 836.4 217.7 835.7 243.4 834.3 267.2 832.3 291.0 829.4 312.8 825.8 323.7 823.7 333.7 821.5 341.5 819.4 349.2 817.0 354.8 815.0 360.1 812.7 365.3 810.1 370.2 807.2 375.8 803.5 391.7 792.4 415.9 776.2 427.5 767.9 438.6 759.2 443.8 754.6 448.1 750.5 452.2 746.2 456.0 741.7 459.6 737.1 462.9 732.3 467.2 724.6 470.9 716.5 474.4 707.1 477.7 696.5 481.2 683.6 499.7 612.2 507.2 582.3 513.5 556.3 522.2 517.7 529.4 481.8 535.2 449.3 549.5 364.3 554.1 339.6 558.4 318.0 563.0 297.6 568.6 274.3 590.0 190.1 595.9 167.8 602.4 144.7 609.0 123.8 616.0 104.1 619.3 95.8 621.7 90.3 624.0 85.8 626.6 81.5 629.7 77.3 632.5 74.1 634.8 72.0 637.2 70.4 639.8 69.3 642.5 69.0 644.4 69.2 646.2 69.7 648.0 70.5 649.7 71.5 652.7 74.1 655.1 77.2 656.9 80.6 658.4 84.4 667.2 110.2 678.5 145.7 689.8 184.1 700.7 223.6 728.9 328.3 737.6 359.0 745.8 386.8 755.2 416.3 765.9 448.7 777.7 482.8 801.0 548.6 810.6 574.7 819.6 596.9 827.4 614.3 845.7 653.5 854.1 672.8 859.4 686.6 871.1 719.1 876.6 732.9 882.4 745.7 889.1 758.2 896.2 769.5 900.3 775.4 904.0 780.3 911.8 789.6 916.0 794.0 920.3 798.2 924.8 802.2 929.4 805.9 934.2 809.3 938.3 812.0 942.5 814.5 947.7 817.2 953.0 819.7 958.4 822.0 969.5 825.8 980.9 828.9 993.7 831.4 1007.7 833.3 1021.9 834.6 1037.2 835.4 1052.4 835.8 1087.6 836.3" stroke="#00A924"/>
</g>
<path d="M100.67 836.85H108.00M100.67 661.75H108.00M100.67 486.65H108.00M100.67 311.55H108.00M100.67 136.45H108.00M373.38 876.00V883.33M651.98 876.00V883.33M930.58 876.00V883.33" stroke="#1F1F1F" stroke-width="2.845" fill="none"/>
<text x="94.80" y="845.85" font-size="23.47" fill="#363636" text-anchor="end">0.00</text>
<text x="94.80" y="670.75" font-size="23.47" fill="#363636" text-anchor="end">0.05</text>
<text x="94.80" y="495.65" font-size="23.47" fill="#363636" text-anchor="end">0.10</text>
<text x="94.80" y="320.55" font-size="23.47" fill="#363636" text-anchor="end">0.15</text>
<text x="94.80" y="145.45" font-size="23.47" fill="#363636" text-anchor="end">0.20</text>
<text x="373.38" y="906.6" font-size="23.47" fill="#363636" text-anchor="middle">-5</text>
<text x="651.98" y="906.6" font-size="23.47" fill="#363636" text-anchor="middle">0</text>
<text x="930.58" y="906.6" font-size="23.47" fill="#363636" text-anchor="middle">5</text>
<text x="621.15" y="939.6" font-size="29.33" fill="#000" text-anchor="middle">intensity</text>
<text transform="translate(35.75 445.1) rotate(-90)" font-size="29.33" fill="#000" text-anchor="middle">density</text>
<text x="1178.60" y="311.4" font-size="29.33" fill="#000">biorep</text>
<rect x="1178.60" y="328.10" width="46.08" height="46.08" fill="#E5E5E5"/>
<rect x="1180.49" y="329.99" width="42.30" height="42.30" fill="none" stroke="#F65E54" stroke-width="2.845"/>
<text x="1239.35" y="359.74" font-size="23.47" fill="#000">D8_n3</text>
<rect x="1178.60" y="374.18" width="46.08" height="46.08" fill="#E5E5E5"/>
<rect x="1180.49" y="376.07" width="42.30" height="42.30" fill="none" stroke="#A68A00" stroke-width="2.845"/>
<text x="1239.35" y="405.82" font-size="23.47" fill="#000">D8_n4</text>
<rect x="1178.60" y="420.26" width="46.08" height="46.08" fill="#E5E5E5"/>
<rect x="1180.49" y="422.15" width="42.30" height="42.30" fill="none" stroke="#00A924" stroke-width="2.845"/>
<text x="1239.35" y="451.90" font-size="23.47" fill="#000">D8_n5</text>
<rect x="1178.60" y="466.34" width="46.08" height="46.08" fill="#E5E5E5"/>
<rect x="1180.49" y="468.23" width="42.30" height="42.30" fill="none" stroke="#00AFB5" stroke-width="2.845"/>
<text x="1239.35" y="497.98" font-size="23.47" fill="#000">WT_n3</text>
<rect x="1178.60" y="512.42" width="46.08" height="46.08" fill="#E5E5E5"/>
<rect x="1180.49" y="514.31" width="42.30" height="42.30" fill="none" stroke="#4987FF" stroke-width="2.845"/>
<text x="1239.35" y="544.06" font-size="23.47" fill="#000">WT_n4</text>
<rect x="1178.60" y="558.50" width="46.08" height="46.08" fill="#E5E5E5"/>
<rect x="1180.49" y="560.39" width="42.30" height="42.30" fill="none" stroke="#F24CDB" stroke-width="2.845"/>
<text x="1239.35" y="590.14" font-size="23.47" fill="#000">WT_n5</text>
</svg></body></html>
